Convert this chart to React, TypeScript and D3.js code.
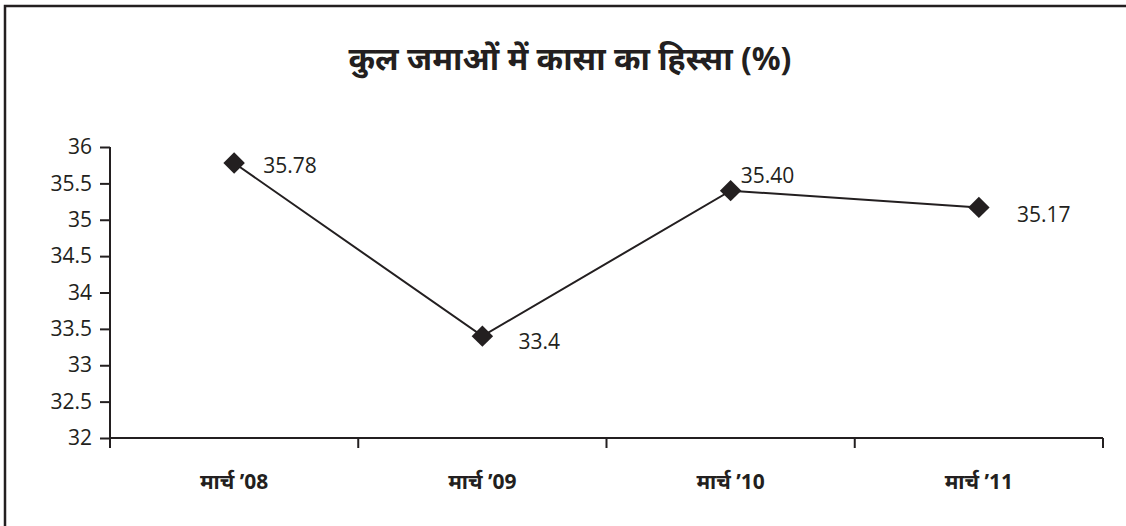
import React, { useEffect, useRef } from "react";
import * as d3 from "d3";

const categories = ["मार्च ’08", "मार्च ’09", "मार्च ’10", "मार्च ’11"];
const values = [35.78, 33.4, 35.4, 35.17];
const valueLabels = ["35.78", "33.4", "35.40", "35.17"];
const yTicks = [32, 32.5, 33, 33.5, 34, 34.5, 35, 35.5, 36];
const title = "कुल जमाओं में कासा का हिस्सा (%)";

// where each data label sits relative to its marker
const labelOffsets: [number, number][] = [
  [29, 10],
  [36, 13],
  [10, -8],
  [38, 15],
];

export default function App() {
  const svgRef = useRef<SVGSVGElement>(null);

  useEffect(() => {
    document.body.style.margin = "0";
    if (!svgRef.current) return;

    const width = 1126;
    const height = 526;
    const marginLeft = 110;
    const marginRight = 23;
    const marginTop = 147;
    const axisY = 438;
    const ink = "#231f20";

    const svg = d3.select(svgRef.current);
    svg.selectAll("*").remove();
    svg.attr("width", width).attr("height", height).attr("viewBox", [0, 0, width, height]);

    svg.append("rect").attr("width", width).attr("height", height).attr("fill", "#fff");

    // frame (only top and left edges visible)
    svg.append("path")
      .attr("d", `M5,${height} V6 H${width}`)
      .attr("fill", "none")
      .attr("stroke", ink)
      .attr("stroke-width", 2.5);

    svg.append("text")
      .attr("x", 570)
      .attr("y", 70)
      .attr("text-anchor", "middle")
      .attr("font-family", "'Noto Sans', 'Open Sans', sans-serif")
      .attr("font-weight", "bold")
      .attr("font-size", 32)
      .attr("fill", ink)
      .text(title);

    const x = d3.scaleBand()
      .domain(categories)
      .range([marginLeft, width - marginRight]);

    const y = d3.scaleLinear()
      .domain([32, 36])
      .range([axisY, marginTop]);

    // y axis
    const yAxis = svg.append("g")
      .attr("transform", `translate(${marginLeft},0)`)
      .call(d3.axisLeft(y).tickValues(yTicks).tickSize(10).tickPadding(8).tickFormat(d => String(d)));
    yAxis.select(".domain").attr("stroke", ink).attr("stroke-width", 2).attr("d", `M0,${marginTop}V${axisY}`);
    yAxis.selectAll(".tick line").attr("stroke", ink).attr("stroke-width", 2);
    yAxis.selectAll(".tick text")
      .attr("fill", ink)
      .attr("font-family", "'Open Sans', sans-serif")
      .attr("font-size", 21);

    // x axis with ticks between categories
    const xg = svg.append("g").attr("transform", `translate(0,${axisY})`);
    xg.append("line")
      .attr("x1", marginLeft)
      .attr("x2", width - marginRight)
      .attr("stroke", ink)
      .attr("stroke-width", 2);
    const bounds = [...categories.map(c => x(c)!), x.range()[1]];
    xg.selectAll("line.tick")
      .data(bounds)
      .join("line")
      .attr("class", "tick")
      .attr("x1", d => d)
      .attr("x2", d => d)
      .attr("y1", 0)
      .attr("y2", 10)
      .attr("stroke", ink)
      .attr("stroke-width", 2);
    xg.selectAll("text")
      .data(categories)
      .join("text")
      .attr("x", d => x(d)! + x.bandwidth() / 2)
      .attr("y", 51)
      .attr("text-anchor", "middle")
      .attr("font-family", "'Noto Sans', 'Roboto', sans-serif")
      .attr("font-weight", "bold")
      .attr("font-size", 21)
      .attr("fill", ink)
      .text(d => d);

    const cx = (i: number) => x(categories[i])! + x.bandwidth() / 2;

    const line = d3.line<number>()
      .x((_, i) => cx(i))
      .y(d => y(d));

    svg.append("path")
      .datum(values)
      .attr("d", line)
      .attr("fill", "none")
      .attr("stroke", ink)
      .attr("stroke-width", 2);

    const diamond = d3.symbol().type(d3.symbolSquare).size(230);
    svg.append("g")
      .selectAll("path")
      .data(values)
      .join("path")
      .attr("d", diamond)
      .attr("transform", (d, i) => `translate(${cx(i)},${y(d)}) rotate(45)`)
      .attr("fill", ink);

    svg.append("g")
      .selectAll("text")
      .data(values)
      .join("text")
      .attr("x", (_, i) => cx(i) + labelOffsets[i][0])
      .attr("y", (d, i) => y(d) + labelOffsets[i][1])
      .attr("font-family", "'Open Sans', sans-serif")
      .attr("font-size", 21)
      .attr("fill", ink)
      .text((_, i) => valueLabels[i]);
  }, []);

  return <svg ref={svgRef} style={{ display: "block" }}></svg>;
}
